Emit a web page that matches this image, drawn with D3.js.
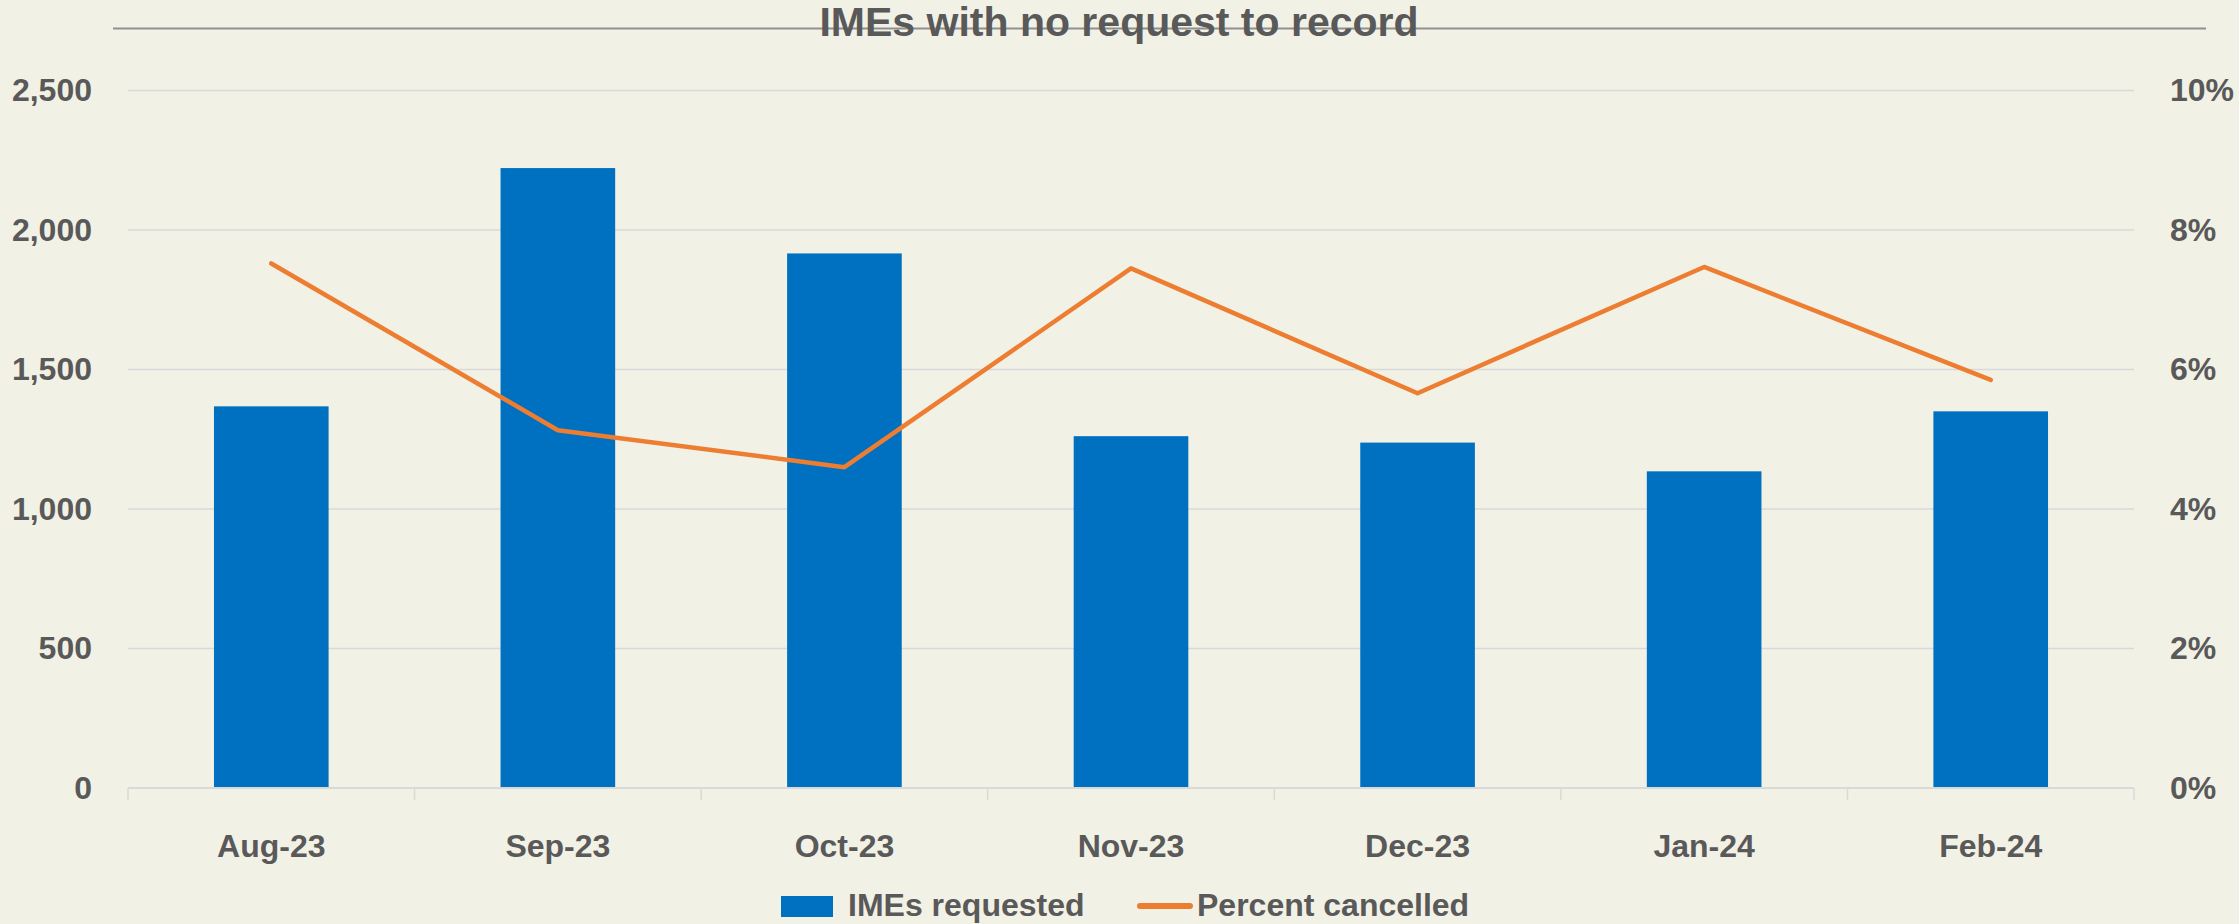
<!DOCTYPE html>
<html>
<head>
<meta charset="utf-8">
<script src="https://cdn.jsdelivr.net/npm/d3@7"></script>
<style>
  html, body { margin: 0; padding: 0; background: #F2F1E6; }
  svg { display: block; }
  text { font-family: "Liberation Sans", Arial, sans-serif; font-weight: bold; fill: #595959; }
</style>
</head>
<body>
<div id="chart"></div>
<script>
// data
const months = ['Aug-23', 'Sep-23', 'Oct-23', 'Nov-23', 'Dec-23', 'Jan-24', 'Feb-24'];
const imesRequested = [1368, 2222, 1916, 1261, 1238, 1135, 1350];
const percentCancelled = [0.0752, 0.0513, 0.0460, 0.0745, 0.0566, 0.0747, 0.0585];
const leftTicks = [0, 500, 1000, 1500, 2000, 2500];
const rightTicks = [0, 0.02, 0.04, 0.06, 0.08, 0.10];

const w = 2239;
const h = 924;
const padL = 128, padR = 2134, padT = 90.5, padB = 788;

const svg = d3.select('#chart').append('svg')
  .attr('width', w)
  .attr('height', h);

const xScale = d3.scaleBand()
  .domain(months)
  .range([padL, padR])
  .padding(0);

const yScale = d3.scaleLinear()
  .domain([0, 2500])
  .range([padB, padT]);

const pScale = d3.scaleLinear()
  .domain([0, 0.10])
  .range([padB, padT]);

// title line + title
svg.append('line')
  .attr('x1', 113).attr('x2', 2206)
  .attr('y1', 28.5).attr('y2', 28.5)
  .attr('stroke', '#909090')
  .attr('stroke-width', 2);

svg.append('text')
  .attr('x', 1119)
  .attr('y', 36)
  .attr('text-anchor', 'middle')
  .style('font-size', '41px')
  .text('IMEs with no request to record');

// gridlines
svg.append('g')
  .selectAll('line')
  .data(leftTicks.filter(d => d > 0))
  .enter()
  .append('line')
  .attr('x1', padL).attr('x2', padR)
  .attr('y1', d => yScale(d)).attr('y2', d => yScale(d))
  .attr('stroke', '#D9D9D9')
  .attr('stroke-width', 1.5);

// left axis
const yAxis = d3.axisLeft(yScale)
  .tickValues(leftTicks)
  .tickFormat(d3.format(','))
  .tickSize(0)
  .tickPadding(36);

svg.append('g')
  .attr('transform', `translate(${padL}, 0)`)
  .call(yAxis)
  .call(g => g.select('.domain').remove())
  .selectAll('text')
  .style('font-size', '32px')
  .attr('fill', '#595959');

// right axis
const pAxis = d3.axisRight(pScale)
  .tickValues(rightTicks)
  .tickFormat(d3.format('.0%'))
  .tickSize(0)
  .tickPadding(36);

svg.append('g')
  .attr('transform', `translate(${padR}, 0)`)
  .call(pAxis)
  .call(g => g.select('.domain').remove())
  .selectAll('text')
  .style('font-size', '32px')
  .attr('fill', '#595959');

// bars
const bw = xScale.bandwidth();
svg.append('g')
  .selectAll('rect')
  .data(imesRequested)
  .enter()
  .append('rect')
  .attr('fill', '#0070C0')
  .attr('x', (d, i) => xScale(months[i]) + bw * 0.3)
  .attr('width', bw * 0.4)
  .attr('y', d => yScale(d))
  .attr('height', d => yScale(0) - yScale(d));

// X-AXIS
const xAxis = d3.axisBottom(xScale).tickSize(0).tickPadding(46);
const xg = svg.append('g')
  .attr('transform', `translate(0, ${padB})`)
  .call(xAxis);
xg.select('.domain').remove();
xg.selectAll('text')
  .style('font-size', '32px')
  .attr('fill', '#595959');

svg.append('line')
  .attr('x1', padL).attr('x2', padR)
  .attr('y1', padB).attr('y2', padB)
  .attr('stroke', '#D9D9D9')
  .attr('stroke-width', 2);

// category boundary ticks
svg.append('g')
  .selectAll('line')
  .data(months.concat(['end']))
  .enter()
  .append('line')
  .attr('x1', (d, i) => padL + i * bw)
  .attr('x2', (d, i) => padL + i * bw)
  .attr('y1', padB)
  .attr('y2', padB + 12)
  .attr('stroke', '#D9D9D9')
  .attr('stroke-width', 1.5);

// percent line
const line = d3.line()
  .x((d, i) => xScale(months[i]) + bw / 2)
  .y(d => pScale(d));

svg.append('path')
  .datum(percentCancelled)
  .attr('d', line)
  .attr('fill', 'none')
  .attr('stroke', '#ED7D31')
  .attr('stroke-width', 4.5)
  .attr('stroke-linecap', 'round')
  .attr('stroke-linejoin', 'round');

// legend
const legend = svg.append('g');
legend.append('rect')
  .attr('x', 781).attr('y', 896)
  .attr('width', 52).attr('height', 21)
  .attr('fill', '#0070C0');
legend.append('text')
  .attr('x', 848).attr('y', 916)
  .style('font-size', '32px')
  .text('IMEs requested');
legend.append('line')
  .attr('x1', 1140).attr('x2', 1190)
  .attr('y1', 906).attr('y2', 906)
  .attr('stroke', '#ED7D31')
  .attr('stroke-width', 6)
  .attr('stroke-linecap', 'round');
legend.append('text')
  .attr('x', 1197).attr('y', 916)
  .style('font-size', '32px')
  .text('Percent cancelled');
</script>
</body>
</html>
